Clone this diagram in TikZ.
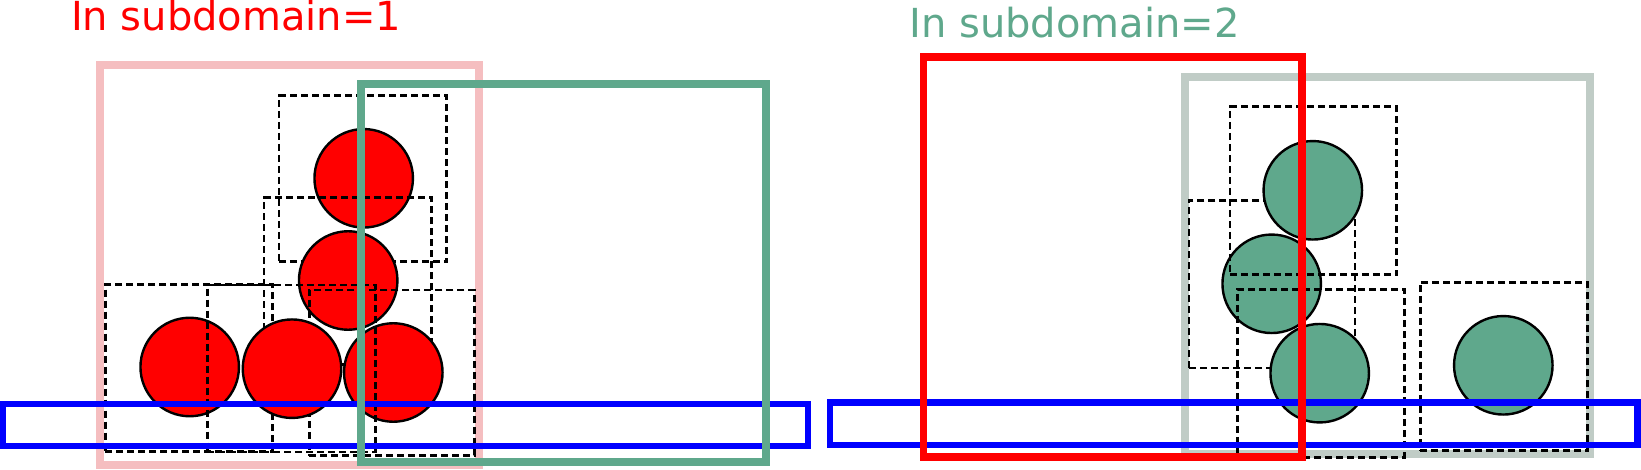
\documentclass[tikz,border=0pt]{standalone}
\usepackage{fontspec}
\setmainfont{DejaVu Sans}
\definecolor{sdred}{RGB}{255,0,0}
\definecolor{sdgreen}{RGB}{95,168,140}
\definecolor{sdpink}{RGB}{245,190,192}
\definecolor{sdgray}{RGB}{192,204,198}
\definecolor{sdblue}{RGB}{0,0,255}
\tikzset{
  ball/.style={circle, draw=black, line width=2.4pt, minimum size=98.5pt, inner sep=0pt},
  redball/.style={ball, fill=sdred},
  greenball/.style={ball, fill=sdgreen},
  nbox/.style={draw=black, line width=2.9pt, dash pattern=on 7pt off 4pt, rectangle, inner sep=0pt},
  faded/.style={line width=8pt},
  strong/.style={line width=7.5pt},
  overlap/.style={draw=sdblue, line width=6.3pt},
  title/.style={anchor=base west, inner sep=0pt, outer sep=0pt, font=\fontsize{40}{48}\selectfont}
}
\begin{document}
\begin{tikzpicture}[x=1pt, y=-1pt]
\useasboundingbox (0,0) rectangle (1641,470);
% ---------- left panel: subdomain 1 ----------
\node[title, text=sdred] (t1) at (71,30.7) {In subdomain=1};
\draw[faded, draw=sdpink] (100,65) rectangle (479,465);
% neighbour boxes and particles
\node[nbox, minimum width=167.7pt, minimum height=166.3pt] (lb1) at (362.8,178.8) {};
\node[redball] (lc1) at (363.7,178.3) {};
\node[nbox, minimum width=167.7pt, minimum height=166.3pt] (lb2) at (347.8,280.9) {};
\node[redball] (lc2) at (348.2,280.5) {};
\node[nbox, minimum width=167pt, minimum height=166.7pt] (lb3) at (188.8,367.7) {};
\node[redball] (lc3) at (189.7,367) {};
\node[nbox, minimum width=165.3pt, minimum height=165.7pt] (lb5) at (391.7,372.9) {};
\node[redball] (lc5) at (393.3,372.5) {};
\node[nbox, minimum width=167.7pt, minimum height=167pt] (lb4) at (291.2,368.5) {};
\node[redball] (lc4) at (292,368.7) {};
\draw[overlap] (3,403.7) rectangle (808,445.8);
\draw[strong, line width=8pt, draw=sdgreen] (361,84) rectangle (766,462);
% ---------- right panel: subdomain 2 ----------
\node[title, text=sdgreen] (t2) at (909.4,37.7) {In subdomain=2};
\draw[faded, draw=sdgray] (1185,76.7) rectangle (1589.5,454);
\node[nbox, minimum width=166pt, minimum height=167.3pt] (rb2) at (1272,284.3) {};
\node[greenball] (rc2) at (1271.7,283.8) {};
\node[nbox, minimum width=166.7pt, minimum height=168.3pt] (rb1) at (1313.3,190.8) {};
\node[greenball] (rc1) at (1312.8,190.3) {};
\node[nbox, minimum width=166.7pt, minimum height=168pt] (rb3) at (1320.7,373.3) {};
\node[greenball] (rc3) at (1319.7,373.2) {};
\node[nbox, minimum width=167.3pt, minimum height=168.4pt] (rb4) at (1503.7,366.5) {};
\node[greenball] (rc4) at (1503.3,365.3) {};
\draw[overlap] (830,402.5) rectangle (1637.5,445.3);
\draw[strong, draw=sdred] (923.7,57.2) rectangle (1302,457);
\end{tikzpicture}
\end{document}
